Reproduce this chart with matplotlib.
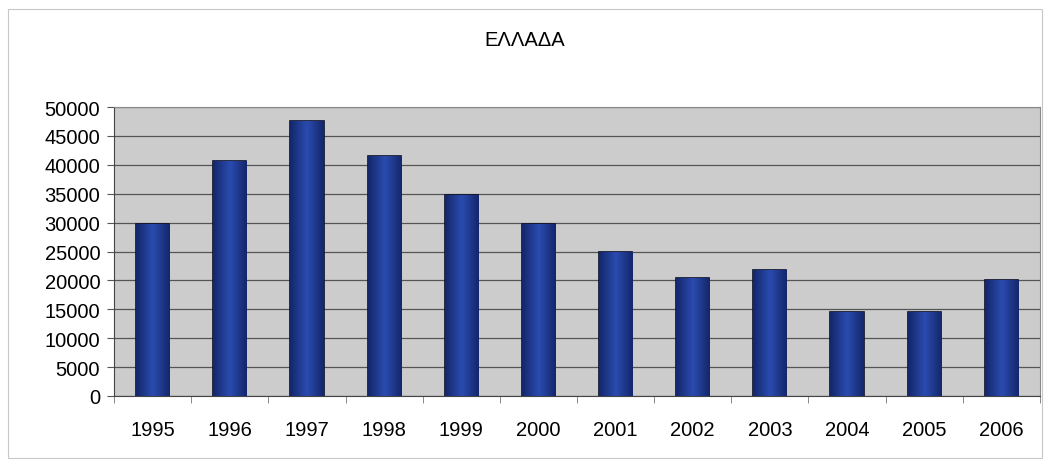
import matplotlib.pyplot as plt
import numpy as np
from matplotlib.patches import Rectangle
from matplotlib.colors import LinearSegmentedColormap

plt.rcParams['font.family'] = ['Liberation Sans', 'DejaVu Sans']

years = ['1995', '1996', '1997', '1998', '1999', '2000',
         '2001', '2002', '2003', '2004', '2005', '2006']
values = [29800, 40700, 47500, 41500, 34700, 29800,
          25000, 20400, 21800, 14600, 14600, 20100]
yticks = list(range(0, 50001, 5000))

fig = plt.figure(figsize=(10.49, 4.64), dpi=100)
fig.patches.append(Rectangle((0.008, 0.01), 0.985, 0.968, transform=fig.transFigure,
                             fill=False, edgecolor='#c8c8c8', linewidth=0.8))
ax = fig.add_axes([0.1087, 0.1444, 0.8827, 0.6228])
ax.set_facecolor('#cccccc')

x = np.arange(len(years))
bars = ax.bar(x, values, width=0.43, color='#1f3a94', edgecolor='#0a0f2a', linewidth=1.2, zorder=3)

# horizontal shading inside each bar
cmap = LinearSegmentedColormap.from_list('bar', ['#14276a', '#2a4bb0', '#14276a'])
grad = np.linspace(0, 1, 64).reshape(1, -1)
for b in bars:
    im = ax.imshow(grad, cmap=cmap, aspect='auto', zorder=3.5,
                   extent=(b.get_x(), b.get_x() + b.get_width(), 0, b.get_height()))
    im.set_clip_path(b)

ax.set_xlim(-0.5, len(years) - 0.5)
ax.set_ylim(0, 50000)
ax.set_yticks(yticks)
ax.set_yticklabels([str(v) for v in yticks], fontsize=14.5)
ax.yaxis.grid(True, color='#555555', linewidth=0.9, zorder=1)
ax.tick_params(axis='y', length=5, color='#555555', pad=5)

ax.set_xticks(x)
ax.set_xticklabels(years, fontsize=14.5)
ax.tick_params(axis='x', length=0, pad=17)
ax.set_xticks(np.arange(-0.5, len(years)), minor=True)
ax.tick_params(axis='x', which='minor', length=5, color='#777777')

for s in ['top', 'right']:
    ax.spines[s].set_color('#888888')
    ax.spines[s].set_linewidth(0.8)
ax.spines['left'].set_color('#444444')
ax.spines['bottom'].set_color('#444444')

fig.text(0.5, 0.912, 'ΕΛΛΑΔΑ', ha='center', va='center', fontsize=14.5)

plt.savefig('out.png', dpi=100)
